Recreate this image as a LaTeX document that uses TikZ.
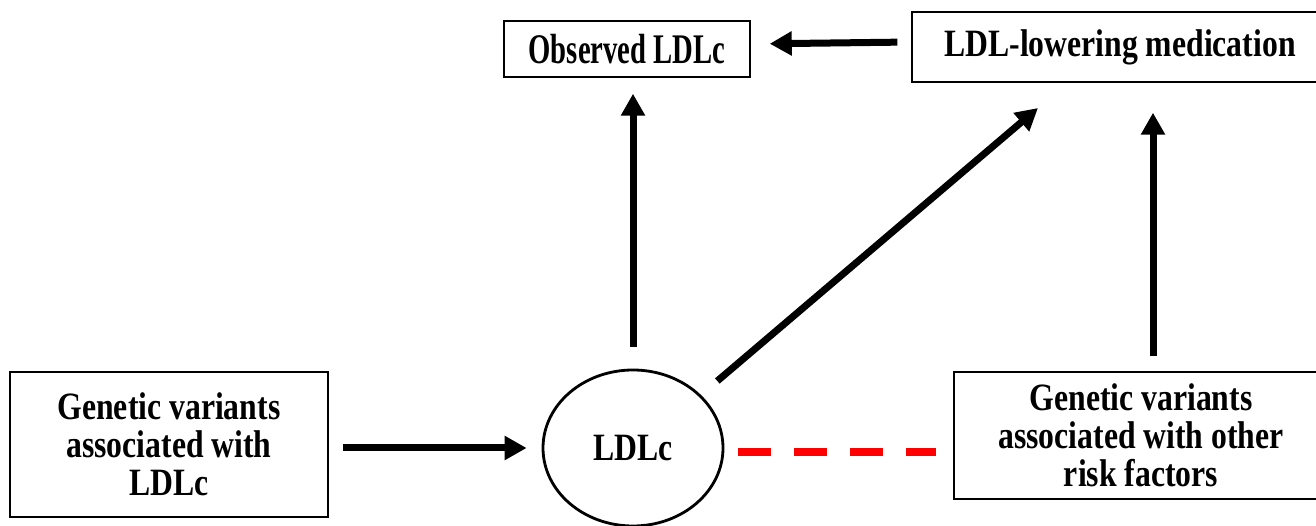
\documentclass[tikz,border=0pt]{standalone}
\usepackage{fontspec}
\setmainfont{Liberation Serif}[FakeStretch=0.82]
\newfontfamily\obsfont{Liberation Serif}[FakeStretch=0.68]
\usetikzlibrary{arrows.meta,shapes.geometric}

\begin{document}
\begin{tikzpicture}[
	box/.style={draw, line width=0.8pt, align=center, inner sep=0pt, font=\bfseries\fontsize{22}{21.6}\selectfont},
	arr/.style={-{Triangle[width=0.46cm,length=0.44cm]}, line width=0.14cm, color=black},
	link/.style={dash pattern=on 0.66cm off 0.46cm, line width=0.16cm, color=red}
	]
	%					\draw[help lines, color=black!50, step=1cm,very thin](0,-10.52)grid(26.32,0);
	\useasboundingbox (0,0) rectangle (26.32,-10.52);
	
	\node (obs) at (12.54,-0.98)[box, minimum width=4.92cm, minimum height=1.12cm, font=\obsfont\bfseries\fontsize{24}{24}\selectfont]{Observed LDLc};
	\node (med) at (22.4,-0.94)[box, minimum width=8.32cm, minimum height=1.4cm]{LDL-lowering medication};
	\node (genl) at (3.38,-8.89)[box, minimum width=6.36cm, minimum height=2.9cm]{Genetic variants\\associated with\\LDLc};
	\node (ldl) at (12.66,-8.96)[ellipse, draw, line width=1.6pt, minimum width=3.6cm, minimum height=3.12cm, inner sep=0pt, font=\bfseries\fontsize{22}{21.6}\selectfont]{LDLc};
	\node (geno) at (22.82,-8.71)[box, minimum width=7.48cm, minimum height=2.54cm]{Genetic variants\\associated with other\\risk factors};
	\coordinate (medin) at (20.76,-2.16);
	
	\draw [arr, shorten <=0.28cm, shorten >=0.3cm](genl.east |- ldl)--(ldl.west);
	\draw [arr, shorten <=0.44cm, shorten >=0.32cm](ldl.north)--(ldl.north |- obs.south);
	\draw [arr, shorten <=0.43cm](ldl.38)--(medin);
	\draw [arr, shorten <=0.3cm, shorten >=0.6cm]([xshift=0.24cm]geno.north)--([xshift=0.24cm]geno.north |- med.south);
	\draw [arr, shorten <=0.28cm, shorten >=0.38cm]([yshift=0.1cm]med.west)--([yshift=0.1cm]obs.east);
	\draw [link, shorten <=0.28cm, shorten >=0.34cm]([yshift=-0.08cm]ldl.east)--([yshift=-0.08cm]ldl.east -| geno.west);
	
\end{tikzpicture}
\end{document}
